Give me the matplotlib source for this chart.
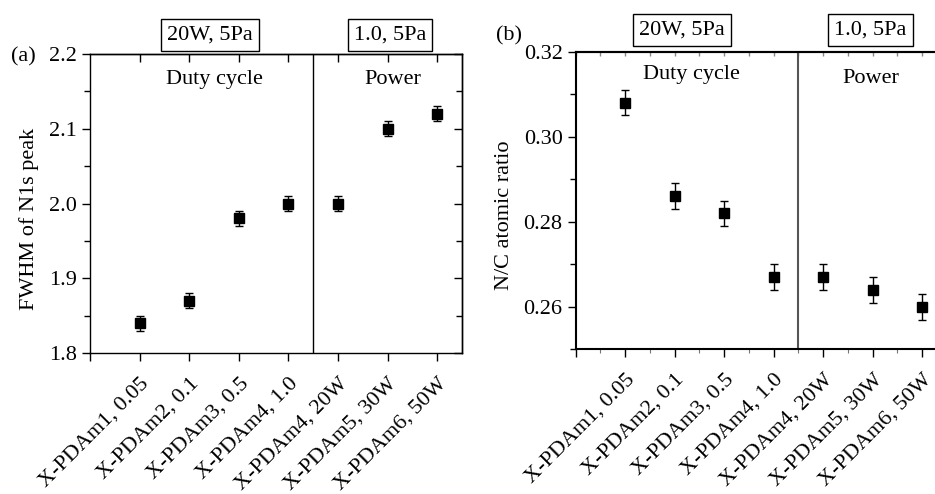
import matplotlib
matplotlib.use('Agg')
import matplotlib.pyplot as plt
from matplotlib.ticker import MultipleLocator, FixedLocator, NullFormatter
import matplotlib.transforms as mtransforms

plt.rcParams['font.family'] = ['Liberation Serif', 'DejaVu Serif']
font_size = 16

samples = ['X-PDAm1, 0.05', 'X-PDAm2, 0.1', 'X-PDAm3, 0.5', 'X-PDAm4, 1.0',
           'X-PDAm4, 20W', 'X-PDAm5, 30W', 'X-PDAm6, 50W']
fwhm = [1.84, 1.87, 1.98, 2.00, 2.00, 2.10, 2.12]
fwhm_err = [0.01, 0.01, 0.01, 0.01, 0.01, 0.01, 0.01]
nc_ratio = [0.308, 0.286, 0.282, 0.267, 0.267, 0.264, 0.260]
nc_err = [0.003, 0.003, 0.003, 0.003, 0.003, 0.003, 0.003]

W, H = 935, 494
fig = plt.figure(figsize=(W / 100, H / 100), dpi=100)

def px_axes(left, top, right, bottom):
    return fig.add_axes([left / W, 1 - bottom / H, (right - left) / W, (bottom - top) / H])

ax_a = px_axes(90, 54, 462, 353)
ax_b = px_axes(575.7, 51.7, 947, 349.3)

xpos = list(range(1, len(samples) + 1))


def setup(ax, y, yerr, ylim, major, minor, lw, divider_color, label, label_x):
    ax.errorbar(xpos, y, yerr=yerr, fmt='s', color='black', markersize=7,
                capsize=3, elinewidth=1, capthick=1)
    ax.axvline(4.5, color=divider_color, lw=lw)
    ax.set_xlim(0, 7.5)
    ax.set_ylim(*ylim)
    ax.yaxis.set_major_locator(MultipleLocator(major))
    ax.yaxis.set_minor_locator(MultipleLocator(minor))
    ax.xaxis.set_major_locator(FixedLocator(list(range(0, 8))))
    ax.set_xticklabels([''] + samples, rotation=45, ha='right',
                       rotation_mode='anchor', fontsize=font_size)
    for s in ax.spines.values():
        s.set_linewidth(lw)
    ax.tick_params(axis='y', which='both', direction='out', left=True, right=False,
                   labelsize=font_size, width=1)
    ax.tick_params(axis='y', which='major', length=6)
    ax.tick_params(axis='y', which='minor', length=4)
    ax.tick_params(axis='x', which='major', direction='out', length=6, width=1,
                   pad=9, labelsize=font_size)
    ax.set_ylabel(label, fontsize=font_size)
    ax.yaxis.set_label_coords(label_x, 0.45)
    # ticks on top and right, pointing inwards
    sec_y = ax.secondary_yaxis('right')
    sec_y.yaxis.set_major_locator(MultipleLocator(major))
    sec_y.yaxis.set_minor_locator(MultipleLocator(minor))
    sec_y.yaxis.set_major_formatter(NullFormatter())
    sec_y.tick_params(which='both', direction='in', width=1)
    sec_y.tick_params(which='major', length=6)
    sec_y.tick_params(which='minor', length=4)
    sec_y.spines['right'].set_linewidth(lw)
    sec_x = ax.secondary_xaxis('top')
    sec_x.xaxis.set_major_locator(FixedLocator(xpos))
    sec_x.xaxis.set_major_formatter(NullFormatter())
    sec_x.tick_params(which='both', direction='in', width=1, length=6)
    sec_x.spines['top'].set_linewidth(lw)
    return sec_x


def annotate(ax, box_y, duty_xy, power_xy, box1_x, box2_x):
    trans = mtransforms.blended_transform_factory(ax.transData, ax.transAxes)
    box = dict(boxstyle='square,pad=0.28', facecolor='white', edgecolor='black', lw=1)
    ax.text(box1_x, box_y, '20W, 5Pa', transform=trans, ha='center', va='center',
            fontsize=font_size, bbox=box, clip_on=False)
    ax.text(box2_x, box_y, '1.0, 5Pa', transform=trans, ha='center', va='center',
            fontsize=font_size, bbox=box, clip_on=False)
    ax.text(duty_xy[0], duty_xy[1], 'Duty cycle', transform=trans, ha='center',
            va='center', fontsize=font_size)
    ax.text(power_xy[0], power_xy[1], 'Power', transform=trans, ha='center',
            va='center', fontsize=font_size)


setup(ax_a, fwhm, fwhm_err, (1.8, 2.2), 0.1, 0.05, 1.0, 'black',
      'FWHM of N1s peak', -0.137)
annotate(ax_a, 1.064, (2.5, 0.915), (6.1, 0.915), 2.42, 6.05)

sec_b = setup(ax_b, nc_ratio, nc_err, (0.25, 0.32), 0.02, 0.01, 1.5, '#555555',
              'N/C atomic ratio', -0.166)
ax_b.xaxis.set_minor_locator(MultipleLocator(0.5))
ax_b.tick_params(axis='x', which='minor', direction='out', length=3, width=0.8,
                 color='#777777')
sec_b.xaxis.set_major_locator(MultipleLocator(0.5))
sec_b.tick_params(which='both', length=3, color='#888888')
annotate(ax_b, 1.073, (2.34, 0.925), (5.97, 0.91), 2.14, 5.95)

fig.text(23 / W, 1 - 57 / H, '(a)', ha='center', va='center', fontsize=font_size)
fig.text(509 / W, 1 - 36 / H, '(b)', ha='center', va='center', fontsize=font_size)

fig.savefig('out.png', dpi=100)
